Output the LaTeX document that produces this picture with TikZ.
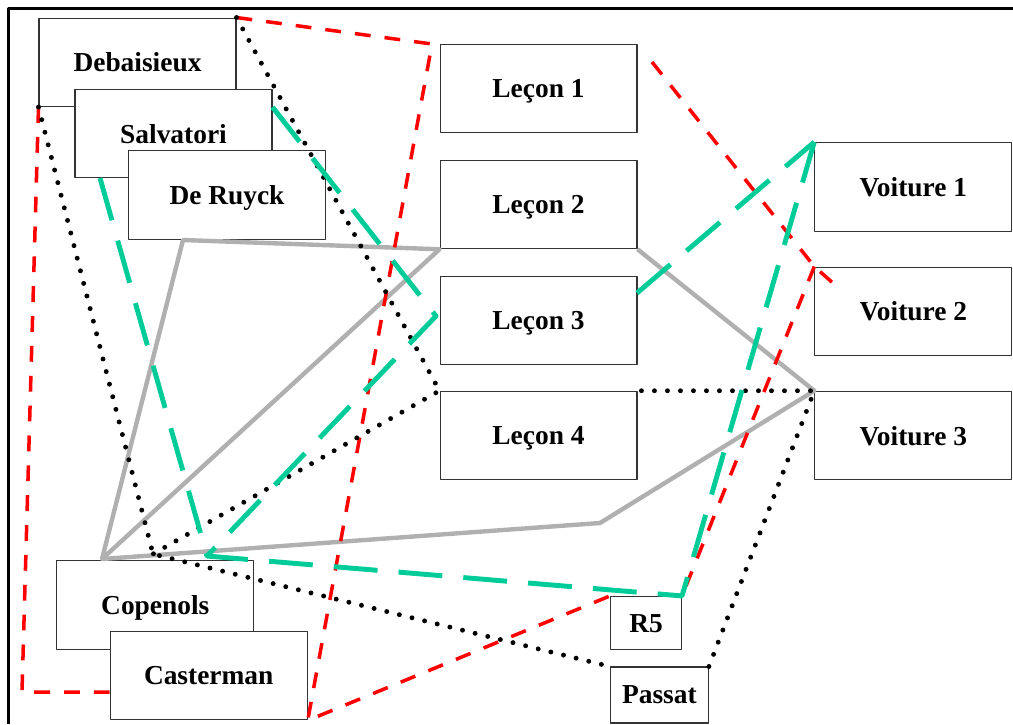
\documentclass[tikz,border=0pt]{standalone}
\usepackage{fontspec}
\setmainfont{Liberation Serif}
\definecolor{seagreen}{RGB}{0,204,153}
\definecolor{linkgrey}{RGB}{176,176,176}
\begin{document}
\begin{tikzpicture}[x=0.02cm, y=-0.02cm, line join=round,
 font=\fontsize{15.6}{18}\selectfont\bfseries,
 box/.style={draw=black!80, line width=0.6pt, fill=white, inner sep=0pt, text depth=0pt, minimum width=3.94cm, minimum height=1.77cm},
 smallbox/.style={box, minimum width=1.42cm, minimum height=1.07cm},
 redlink/.style={red, line width=2pt, dash pattern=on 9pt off 8pt},
 greenlink/.style={seagreen, line width=2.8pt, dash pattern=on 25pt off 12pt},
 greylink/.style={linkgrey, line width=2.5pt},
 dotlink/.style={black, line width=2.8pt, line cap=round, dash pattern=on 0pt off 7.4pt}]
 \useasboundingbox (0,0) rectangle (1013,724);
 \draw[line width=1.4pt] (8.5,724) -- (8.5,8.5) -- (1013,8.5);
 % personnes
 \node[box] (deb) at (137.5,62.3) {Debaisieux};
 \node[box] (sal) at (173.5,133.7) {Salvatori};
 \node[box] (der) at (227,195.2) {De Ruyck};
 \node[box] (cop) at (155.3,604.8) {Copenols};
 \node[box] (cas) at (208.7,675.7) {Casterman};
 % lecons
 \node[box] (l1) at (538.5,88.5) {Leçon 1};
 \node[box] (l2) at (538.5,204.5) {Leçon 2};
 \node[box] (l3) at (538.5,320.5) {Leçon 3};
 \node[box] (l4) at (538.5,435.5) {Leçon 4};
 % voitures
 \node[box] (v1) at (913.3,186.8) {Voiture 1};
 \node[box] (v2) at (913.3,311.3) {Voiture 2};
 \node[box] (v3) at (913.3,435.5) {Voiture 3};
 \node[smallbox] (r5) at (646,623.2) {R5};
 \node[smallbox, minimum width=1.96cm, minimum height=1.12cm] (pas) at (659.4,695) {Passat};
 % points de passage
 \coordinate (rl) at (22,692);
 \coordinate (rt) at (432,44);
 \coordinate (ra) at (652,62);
 \coordinate (rb) at (834,284);
 \coordinate (k) at (102,559);
 \coordinate (kd) at (183,240);
 \coordinate (kb) at (600,523);
 \coordinate (j) at (153,554);
 \coordinate (gs) at (100,178);
 \coordinate (gm) at (436,316);
 \coordinate (gj) at (207,556);
 \coordinate (gl) at (637,293);
 % liens
 \draw[greylink] (k) -- (kd) -- (l2.south west) -- cycle;
 \draw[greylink] (k) -- (kb) -- (v3.north west) -- (l2.south east);
 \draw[redlink] (deb.south west) -- (rl) -- (rl -| cas.west);
 \draw[redlink] (deb.north east) -- (rt) -- (cas.south east) -- (r5.north west);
 \draw[redlink] (ra) -- (v2.north west) -- (rb);
 \draw[redlink] (v2.north west) -- (r5.north east);
 \draw[dotlink] (deb.north east) -- (l4.north west) -- (j);
 \draw[dotlink] (deb.south west) -- (j) -- (pas.north west);
 \draw[dotlink] (pas.north east) -- (v3.north west) -- (l4.north east);
 \draw[greenlink] (gs) -- (gj) -- (r5.north east) -- (v1.north west);
 \draw[greenlink] (deb.south -| sal.east) -- (gm) -- (gj);
 \draw[greenlink] (gl) -- (v1.north west);
\end{tikzpicture}
\end{document}
